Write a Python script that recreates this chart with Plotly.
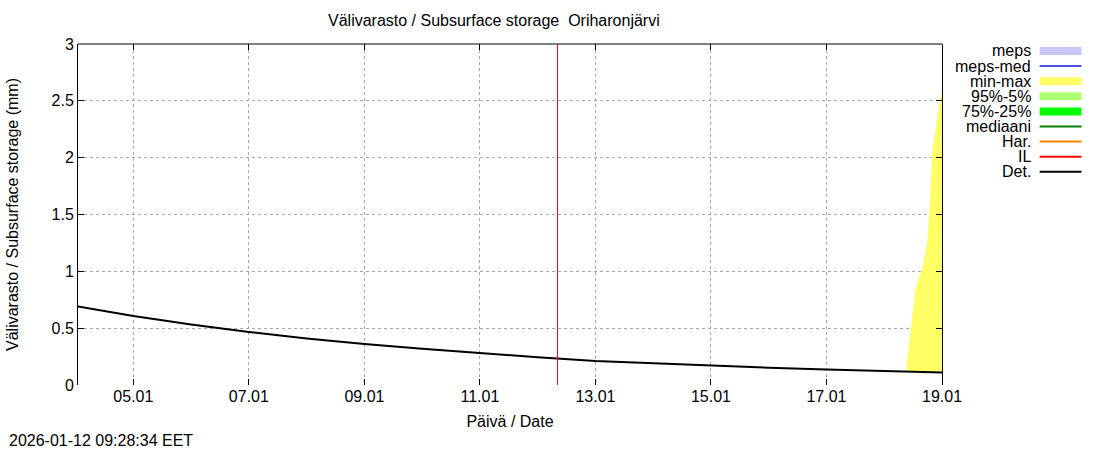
import plotly.graph_objects as go

# Deterministic run (Det.)
det_time = ["2026-01-04 01:00", "2026-01-05", "2026-01-06", "2026-01-07", "2026-01-08",
            "2026-01-09", "2026-01-10", "2026-01-11", "2026-01-12", "2026-01-13",
            "2026-01-14", "2026-01-15", "2026-01-16", "2026-01-17", "2026-01-18",
            "2026-01-19"]
det_value = [0.69, 0.607, 0.533, 0.466, 0.41, 0.36, 0.318, 0.28, 0.245, 0.212,
             0.19, 0.17, 0.152, 0.136, 0.124, 0.11]

# Ensemble min-max band at the end of the period
band_time = ["2026-01-18 09:00", "2026-01-18 10:00", "2026-01-18 11:00", "2026-01-18 12:00",
             "2026-01-18 13:00", "2026-01-18 14:00", "2026-01-18 15:00", "2026-01-18 16:00",
             "2026-01-18 17:00", "2026-01-18 18:00", "2026-01-18 19:00", "2026-01-18 20:00",
             "2026-01-18 21:00", "2026-01-18 22:00", "2026-01-18 23:00", "2026-01-19 00:00"]
band_max = [0.125, 0.30, 0.48, 0.70, 0.85, 0.92, 0.99, 1.04, 1.16, 1.28, 1.62, 2.08,
            2.20, 2.35, 2.50, 2.60]
band_min = [0.125, 0.124, 0.123, 0.122, 0.121, 0.12, 0.119, 0.118, 0.117, 0.116,
            0.115, 0.114, 0.113, 0.112, 0.111, 0.11]

now_time = "2026-01-12 08:15"
x_start, x_end = "2026-01-04 01:00", "2026-01-19 00:00"
tick_vals = ["2026-01-05", "2026-01-07", "2026-01-09", "2026-01-11", "2026-01-13",
             "2026-01-15", "2026-01-17", "2026-01-19"]

legend_names = ["meps", "meps-med", "min-max", "95%-5%", "75%-25%", "mediaani", "Har.", "IL", "Det."]
legend_colors = ["#c8c8f8", "#4b4bdc", "#ffff66", "#b0ff70", "#00ff00", "#008000",
                 "#ff8000", "#ff0000", "#000000"]
legend_widths = [8, 2, 8, 8, 8, 2, 2, 2, 2]

W, H = 1100, 450
L, R, T, B = 75, 942, 44, 385
font = "Liberation Sans, Arial, sans-serif"
fs = 16


def px_x(px):
    return (px - L) / (R - L)


def px_y(py):
    return (B - py) / (B - T)


fig = go.Figure()
fig.add_trace(go.Scatter(x=band_time, y=band_min, mode="lines", line=dict(width=0),
                         showlegend=False, hoverinfo="skip"))
fig.add_trace(go.Scatter(x=band_time, y=band_max, mode="lines", line=dict(width=0),
                         fill="tonexty", fillcolor="#ffff66", showlegend=False))
fig.add_trace(go.Scatter(x=det_time, y=det_value, mode="lines",
                         line=dict(color="black", width=2), showlegend=False))

# analysis time marker
fig.add_shape(type="line", x0=now_time, x1=now_time, y0=0, y1=1, xref="x", yref="paper",
              line=dict(color="red", width=1))
# top border
fig.add_shape(type="line", x0=0, x1=1, y0=1, y1=1, xref="paper", yref="paper",
              line=dict(color="black", width=1))

# legend drawn by hand: text right aligned, sample to the right
for i, (name, col, w) in enumerate(zip(legend_names, legend_colors, legend_widths)):
    yy = px_y(51 + i * 15.1)
    fig.add_annotation(x=px_x(1033), y=yy, xref="paper", yref="paper", text=name,
                       showarrow=False, xanchor="right", yanchor="middle",
                       font=dict(family=font, size=fs, color="black"))
    fig.add_shape(type="line", x0=px_x(1040), x1=px_x(1082), y0=yy, y1=yy,
                  xref="paper", yref="paper", line=dict(color=col, width=w))

fig.add_annotation(x=px_x(492), y=px_y(20), xref="paper", yref="paper",
                   text="Välivarasto / Subsurface storage  Oriharonjärvi", showarrow=False,
                   xanchor="center", yanchor="middle", font=dict(family=font, size=fs))
fig.add_annotation(x=px_x(4), y=px_y(440), xref="paper", yref="paper",
                   text="2026-01-12 09:28:34 EET", showarrow=False,
                   xanchor="left", yanchor="middle", font=dict(family=font, size=fs))

fig.update_layout(
    width=W, height=H,
    margin=dict(l=L, r=W - R, t=T, b=H - B, pad=0),
    plot_bgcolor="white", paper_bgcolor="white",
    font=dict(family=font, size=fs, color="black"),
    showlegend=False,
    xaxis=dict(range=[x_start, x_end], tickvals=tick_vals, tickformat="%d.%m",
               showgrid=True, gridcolor="#a8a8a8", griddash="dot", gridwidth=1,
               showline=False, zeroline=False, ticks="inside", ticklen=6,
               tickcolor="black", mirror="ticks", tickfont=dict(size=fs),
               title=dict(text="Päivä / Date", standoff=11, font=dict(size=fs))),
    yaxis=dict(range=[0, 3], dtick=0.5, showgrid=True, gridcolor="#a8a8a8",
               griddash="dot", gridwidth=1, zeroline=False, showline=True,
               linecolor="black", linewidth=1, mirror="ticks", ticks="inside",
               ticklen=6, tickcolor="black", tickfont=dict(size=fs),
               title=dict(text="Välivarasto / Subsurface storage (mm)", standoff=28,
                          font=dict(size=fs))),
)

fig.write_html("out.html", config={"displayModeBar": False},
               post_script="document.body.style.margin='0';")
